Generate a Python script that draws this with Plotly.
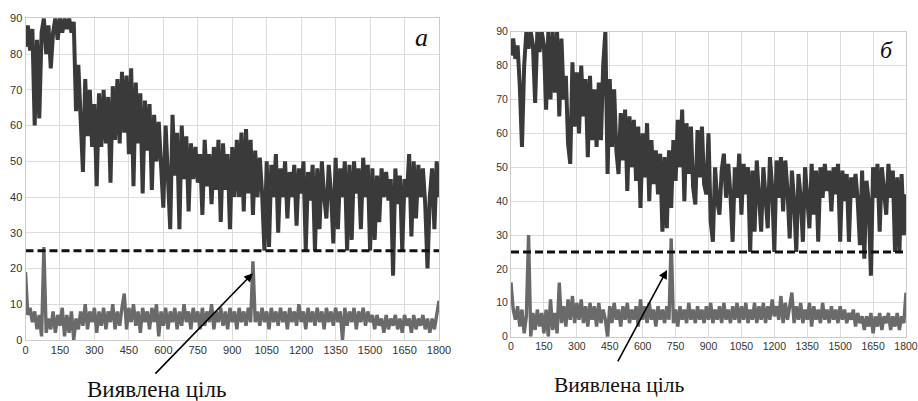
import plotly.graph_objects as go

# Sample positions (time index) shared by all series
t = list(range(0, 1801, 10))

# Panel "a": detector response (dark) and target-channel response (grey)
a_dark = [
    82, 88, 81, 87, 60, 84, 62, 86, 90, 80,
    88, 76, 86, 90, 84, 90, 86, 90, 87, 90,
    86, 89, 64, 77, 62, 47, 73, 57, 70, 54,
    66, 43, 69, 54, 70, 55, 68, 44, 71, 56,
    73, 55, 75, 58, 74, 52, 76, 43, 72, 55,
    69, 41, 67, 53, 66, 42, 63, 50, 61, 47,
    37, 60, 47, 31, 63, 46, 58, 31, 60, 45,
    57, 36, 55, 45, 54, 44, 52, 35, 56, 43,
    52, 38, 54, 42, 56, 33, 55, 42, 52, 31,
    54, 40, 56, 40, 58, 36, 59, 41, 56, 35,
    53, 40, 51, 41, 25, 50, 26, 49, 40, 52,
    30, 48, 40, 50, 34, 47, 40, 49, 32, 48,
    41, 50, 25, 47, 39, 49, 25, 48, 31, 50,
    40, 34, 49, 41, 27, 51, 31, 48, 40, 50,
    25, 49, 28, 50, 41, 48, 31, 51, 40, 49,
    25, 48, 28, 46, 33, 48, 40, 47, 39, 45,
    18, 48, 38, 46, 25, 45, 40, 52, 29, 50,
    34, 49, 40, 48, 38, 20, 40, 48, 31, 50,
    40,
]
a_grey = [
    19, 7, 9, 5, 8, 3, 7, 1, 26, 2,
    6, 3, 8, 2, 7, 4, 9, 1, 7, 2,
    8, 0, 6, 3, 8, 4, 10, 3, 8, 5,
    9, 2, 8, 4, 9, 3, 8, 5, 10, 3,
    8, 4, 9, 13, 3, 9, 5, 10, 4, 8,
    2, 9, 5, 8, 3, 9, 5, 10, 1, 8,
    4, 9, 3, 8, 5, 9, 3, 8, 4, 10,
    5, 8, 3, 9, 5, 8, 3, 9, 4, 8,
    5, 10, 3, 8, 5, 9, 4, 8, 3, 9,
    5, 8, 3, 9, 5, 8, 4, 9, 5, 22,
    5, 8, 4, 9, 5, 8, 3, 9, 5, 8,
    4, 9, 5, 8, 3, 9, 5, 8, 4, 10,
    5, 8, 3, 9, 5, 8, 4, 9, 5, 8,
    3, 9, 5, 8, 4, 9, 5, 8, 0, 9,
    4, 8, 5, 9, 3, 8, 5, 9, 4, 8,
    5, 7, 3, 7, 4, 6, 2, 7, 3, 6,
    4, 7, 3, 6, 2, 7, 4, 6, 2, 7,
    3, 6, 4, 7, 3, 6, 2, 6, 3, 7,
    11,
]

# Panel "б"
b_dark = [
    83, 88, 82, 86, 74, 56, 80, 90, 85, 90,
    86, 69, 90, 84, 90, 86, 67, 90, 70, 90,
    72, 90, 65, 88, 70, 77, 57, 51, 81, 62,
    78, 60, 80, 65, 76, 53, 77, 58, 73, 56,
    75, 58, 80, 90, 48, 76, 56, 73, 55, 48,
    66, 52, 67, 43, 65, 50, 64, 46, 62, 38,
    60, 47, 63, 40, 58, 45, 55, 42, 54, 31,
    53, 32, 55, 38, 58, 46, 64, 50, 67, 40,
    63, 48, 62, 44, 39, 61, 47, 62, 45, 42,
    60, 34, 28, 50, 40, 36, 49, 54, 41, 51,
    42, 28, 50, 41, 54, 36, 51, 42, 50, 25,
    49, 31, 52, 40, 31, 50, 42, 32, 53, 44,
    25, 52, 41, 53, 37, 52, 43, 29, 49, 40,
    25, 48, 41, 28, 50, 42, 32, 51, 36, 49,
    28, 50, 41, 51, 43, 49, 37, 50, 42, 51,
    28, 49, 40, 48, 28, 47, 41, 48, 40, 27,
    49, 23, 46, 40, 18, 50, 41, 51, 31, 50,
    42, 36, 51, 41, 49, 25, 47, 25, 48, 30,
    42,
]
b_grey = [
    16, 8, 5, 9, 3, 8, 1, 6, 30, 0,
    7, 2, 8, 3, 7, 1, 8, 0, 11, 2,
    7, 1, 16, 4, 9, 3, 11, 5, 12, 4,
    10, 5, 11, 4, 9, 3, 10, 5, 9, 3,
    10, 4, 8, 5, 0, 9, 4, 10, 5, 8,
    3, 9, 5, 10, 4, 8, 5, 9, 3, 11,
    5, 9, 4, 10, 5, 8, 3, 9, 5, 8,
    4, 9, 5, 29, 4, 8, 3, 9, 5, 8,
    4, 10, 5, 8, 4, 9, 5, 8, 4, 9,
    5, 10, 4, 8, 5, 9, 4, 10, 5, 8,
    4, 9, 5, 10, 4, 9, 5, 10, 4, 8,
    5, 10, 4, 9, 5, 10, 4, 9, 5, 11,
    6, 9, 5, 12, 4, 10, 5, 9, 13, 4,
    9, 5, 10, 4, 8, 5, 10, 3, 9, 5,
    8, 4, 10, 5, 8, 4, 9, 5, 8, 4,
    9, 5, 8, 4, 7, 5, 8, 3, 7, 4,
    6, 2, 6, 3, 7, 1, 6, 3, 7, 2,
    6, 4, 7, 2, 6, 3, 7, 2, 6, 4,
    13,
]

threshold = 25
x_ticks = list(range(0, 1801, 150))
y_ticks = list(range(0, 91, 10))
panel_labels = ["a", "б"]
caption = "Виявлена ціль"
# detected targets: (time, level) the arrows point at
targets = [(990, 18.7), (711, 19.7)]

W, H = 918, 401
DARK = "#3a3a3a"
GREY = "#6a6a6a"
TICK = "#333333"

fig = go.Figure()

panels = [
    dict(dark=a_dark, grey=a_grey, xd=(25.5, 439), yd=(340, 18.3), font=11,
         xa="x", ya="y", label_xy=(421, 38), label_size=26,
         arrow_off=(-99, 102), cap_xy=(156.5, 389.5), cap_size=23),
    dict(dark=b_dark, grey=b_grey, xd=(511, 906), yd=(336.7, 31.7), font=10.5,
         xa="x2", ya="y2", label_xy=(886, 50), label_size=24,
         arrow_off=(-50, 93), cap_xy=(619, 385), cap_size=21.5),
]

for i, p in enumerate(panels):
    fig.add_trace(go.Scatter(x=t, y=p["dark"], mode="lines", xaxis=p["xa"], yaxis=p["ya"],
                             line=dict(color=DARK, width=4), showlegend=False))
    fig.add_trace(go.Scatter(x=t, y=p["grey"], mode="lines", xaxis=p["xa"], yaxis=p["ya"],
                             line=dict(color=GREY, width=3.4), showlegend=False))
    fig.add_trace(go.Scatter(x=[0, 1800], y=[threshold, threshold], mode="lines",
                             xaxis=p["xa"], yaxis=p["ya"],
                             line=dict(color="#111111", width=3, dash="8px,4px"),
                             showlegend=False))

    suffix = "" if i == 0 else "2"
    axis_common = dict(showgrid=True, gridcolor="#dcdcdc", gridwidth=1,
                       showline=True, linecolor="#cccccc", linewidth=1, mirror=True,
                       zeroline=False, ticks="", automargin=False,
                       tickfont=dict(family="Liberation Sans, Arial", size=p["font"], color=TICK))
    fig.layout["xaxis" + suffix] = dict(
        domain=[p["xd"][0] / W, p["xd"][1] / W], range=[0, 1800],
        tickmode="array", tickvals=x_ticks, anchor="y" + suffix, **axis_common)
    fig.layout["yaxis" + suffix] = dict(
        domain=[1 - p["yd"][0] / H, 1 - p["yd"][1] / H], range=[0, 90],
        tickmode="array", tickvals=y_ticks, anchor="x" + suffix, **axis_common)

    # panel letter
    fig.add_annotation(xref="paper", yref="paper", x=p["label_xy"][0] / W, y=1 - p["label_xy"][1] / H,
                       text="<i>%s</i>" % panel_labels[i], showarrow=False,
                       xanchor="center", yanchor="middle",
                       font=dict(family="Liberation Serif, Times New Roman", size=p["label_size"], color="#111111"))
    # arrow to the detected target
    tx, ty = targets[i]
    fig.add_annotation(xref=p["xa"], yref=p["ya"], x=tx, y=ty, text="",
                       showarrow=True, ax=p["arrow_off"][0], ay=p["arrow_off"][1],
                       arrowhead=2, arrowsize=1.1, arrowwidth=1.6, arrowcolor="#000000", standoff=0)
    # caption
    fig.add_annotation(xref="paper", yref="paper", x=p["cap_xy"][0] / W, y=1 - p["cap_xy"][1] / H,
                       text=caption, showarrow=False, xanchor="center", yanchor="middle", borderpad=0,
                       font=dict(family="Liberation Serif, Times New Roman", size=p["cap_size"], color="#111111"))

fig.update_layout(width=W, height=H, margin=dict(l=0, r=0, t=0, b=0),
                  font=dict(family="Liberation Sans, Arial", color=TICK),
                  paper_bgcolor="white", plot_bgcolor="white", showlegend=False)

fig.write_html("out.html")
